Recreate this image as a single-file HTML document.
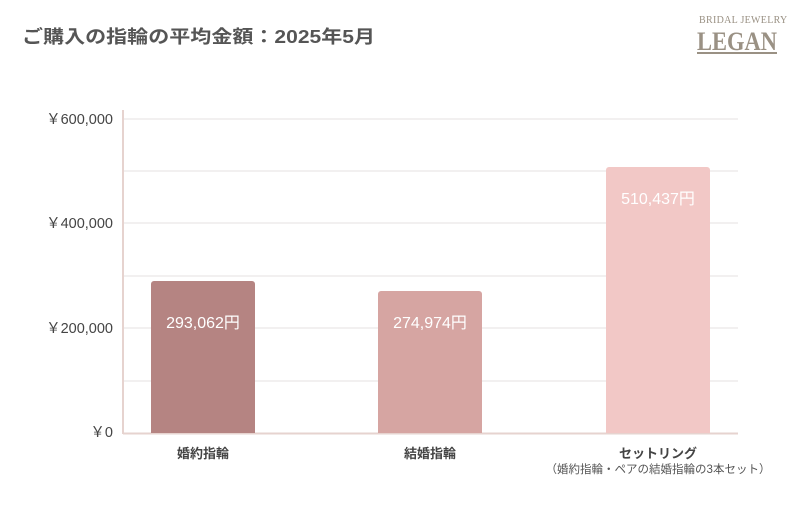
<!DOCTYPE html>
<html><head><meta charset="utf-8"><style>
body{margin:0;background:#fff;width:800px;height:500px;overflow:hidden;font-family:"Liberation Sans","Noto Sans CJK JP",sans-serif}
</style></head><body>
<svg width="800" height="500" xmlns="http://www.w3.org/2000/svg" font-family="Liberation Sans, Noto Sans CJK JP, sans-serif">
<text x="22" y="43" font-size="18" font-weight="bold" fill="#555" textLength="353" lengthAdjust="spacingAndGlyphs">ご購入の指輪の平均金額：2025年5月</text>
<text x="699" y="23" font-size="10" fill="#9a9184" font-family="Liberation Serif, serif" letter-spacing="0.3">BRIDAL JEWELRY</text>
<rect x="697" y="52" width="80" height="2" fill="#9a9184"/>
<text x="697" y="50" font-size="26" font-weight="bold" fill="#9a9184" font-family="Liberation Serif, serif" textLength="80" lengthAdjust="spacingAndGlyphs">LEGAN</text>
<g stroke="#ebe6e6" stroke-width="1.2">
<line x1="123" y1="119" x2="738" y2="119"/><line x1="123" y1="171" x2="738" y2="171"/>
<line x1="123" y1="223" x2="738" y2="223"/><line x1="123" y1="276" x2="738" y2="276"/>
<line x1="123" y1="328" x2="738" y2="328"/><line x1="123" y1="381" x2="738" y2="381"/>
</g>
<line x1="123" y1="110" x2="123" y2="434" stroke="#e6d3cf" stroke-width="2"/>
<line x1="123" y1="433.5" x2="738" y2="433.5" stroke="#e6d3cf" stroke-width="2"/>
<g font-size="14.5" fill="#444" text-anchor="end">
<text x="113" y="124">￥600,000</text><text x="113" y="228">￥400,000</text>
<text x="113" y="333">￥200,000</text><text x="113" y="437">￥0</text>
</g>
<path d="M151 433V284a3 3 0 0 1 3-3h98a3 3 0 0 1 3 3V433z" fill="#b58482"/>
<path d="M378 433V294a3 3 0 0 1 3-3h98a3 3 0 0 1 3 3V433z" fill="#d6a5a2"/>
<path d="M606 433V170a3 3 0 0 1 3-3h98a3 3 0 0 1 3 3V433z" fill="#f2c8c6"/>
<g font-size="16" fill="#fff" text-anchor="middle">
<text x="203" y="328">293,062円</text><text x="430" y="328">274,974円</text><text x="658" y="204">510,437円</text>
</g>
<g font-size="13" font-weight="bold" fill="#444" text-anchor="middle">
<text x="203" y="458">婚約指輪</text><text x="430" y="458">結婚指輪</text><text x="658" y="458">セットリング</text>
</g>
<text x="658" y="473" font-size="11.5" fill="#555" text-anchor="middle">（婚約指輪・ペアの結婚指輪の3本セット）</text>
</svg>
</body></html>
